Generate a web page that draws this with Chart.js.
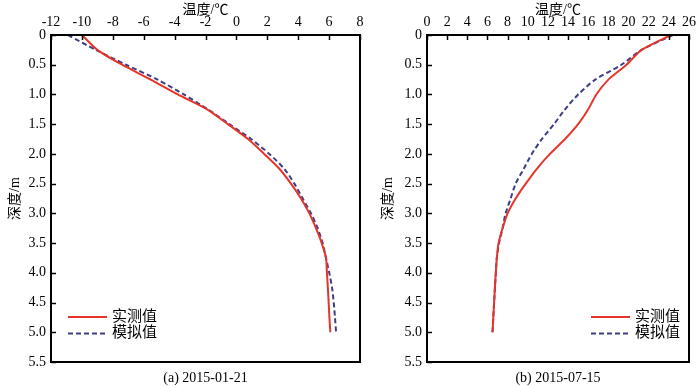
<!DOCTYPE html>
<html>
<head>
<meta charset="utf-8">
<script src="https://cdn.jsdelivr.net/npm/chart.js@4/dist/chart.umd.min.js"></script>
<style>
  html,body{margin:0;padding:0;background:#fff;}
  #wrap{position:relative;width:700px;height:386px;}
  .box{position:absolute;top:0;height:386px;}
</style>
</head>
<body>
<div id="wrap">
  <div class="box" style="left:0;width:370px"><canvas id="c1"></canvas></div>
  <div class="box" style="left:370px;width:330px"><canvas id="c2"></canvas></div>
</div>
<script>
// depth (m) shared by all four profiles
const depths = [0, 0.25, 0.5, 0.75, 1.0, 1.25, 1.5, 1.75, 2.0, 2.25, 2.5, 2.75, 3.0, 3.25, 3.5, 3.75, 4.0, 4.25, 4.5, 4.75, 5.0];

// (a) 2015-01-21
const janMeasured = [-10.0, -9.0, -7.4, -5.55, -3.8, -1.9, -0.55, 0.75, 1.8, 2.78, 3.53, 4.18, 4.72, 5.15, 5.52, 5.8, 5.86, 5.92, 5.97, 6.02, 6.08];
const janSimulated = [-10.9, -9.1, -7.15, -5.1, -3.4, -1.85, -0.45, 0.95, 2.13, 3.1, 3.75, 4.29, 4.83, 5.26, 5.58, 5.8, 6.01, 6.19, 6.3, 6.38, 6.45];

// (b) 2015-07-15
const julMeasured = [24.2, 21.3, 19.8, 18.0, 16.8, 16.0, 15.0, 13.7, 12.2, 10.9, 9.8, 8.8, 8.0, 7.5, 7.1, 6.93, 6.83, 6.74, 6.66, 6.58, 6.5];
const julSimulated = [24.4, 21.3, 19.3, 16.7, 15.0, 13.7, 12.6, 11.4, 10.4, 9.6, 8.8, 8.3, 7.8, 7.5, 7.15, 6.93, 6.83, 6.74, 6.66, 6.58, 6.5];

const depthTicks = [0, 0.5, 1.0, 1.5, 2.0, 2.5, 3.0, 3.5, 4.0, 4.5, 5.0, 5.5];
const seriesNames = ['实测值', '模拟值'];
const xTitle = '温度/℃';
const yTitle = '深度/m';

const RED = '#e5352b';
const BLUE = '#3d3f85';
const FONT = "'Liberation Serif','Noto Sans CJK SC',serif";

const pts = (xs) => xs.map((x, i) => ({ x, y: depths[i] }));

// frame, inward ticks, titles, caption and legend
const framePlugin = {
  id: 'frame',
  afterDraw(chart, _a, opts) {
    const { ctx, chartArea: { left, right, top, bottom }, scales } = chart;
    ctx.save();
    ctx.strokeStyle = '#000';
    ctx.lineWidth = 1.5;
    ctx.beginPath();
    scales.x.ticks.forEach(t => {
      const px = Math.round(scales.x.getPixelForValue(t.value)) + 0.5;
      ctx.moveTo(px, top); ctx.lineTo(px, top + 5);
    });
    scales.y.ticks.forEach(t => {
      const py = Math.round(scales.y.getPixelForValue(t.value)) + 0.5;
      ctx.moveTo(left, py); ctx.lineTo(left + 5, py);
    });
    ctx.stroke();
    ctx.lineWidth = 2;
    ctx.strokeRect(left, top, right - left, bottom - top);

    const cx = (left + right) / 2;
    ctx.fillStyle = '#000';
    ctx.textAlign = 'center';
    ctx.textBaseline = 'middle';
    ctx.font = '14px ' + FONT;
    ctx.fillText(xTitle, cx, 10);
    ctx.fillText(opts.caption, cx, 378);

    ctx.save();
    ctx.translate(opts.yTitleX, (top + bottom) / 2);
    ctx.rotate(-Math.PI / 2);
    ctx.fillText(yTitle, 0, 0);
    ctx.restore();

    // legend
    const lx = opts.legendX;
    const rows = [{ c: RED, d: [] }, { c: BLUE, d: [5, 3] }];
    rows.forEach((r, i) => {
      const y = 317 + i * 16.5;
      ctx.strokeStyle = r.c;
      ctx.lineWidth = 2;
      ctx.setLineDash(r.d);
      ctx.beginPath();
      ctx.moveTo(left + lx, y); ctx.lineTo(left + lx + 39, y);
      ctx.stroke();
      ctx.setLineDash([]);
      ctx.textAlign = 'left';
      ctx.font = '15px ' + FONT;
      ctx.fillText(seriesNames[i], left + lx + 44, y);
    });
    ctx.restore();
  }
};

function profile(id, xMin, xMax, meas, sim, leftW, opts) {
  return new Chart(document.getElementById(id), {
    type: 'scatter',
    data: {
      datasets: [
        { label: seriesNames[0], data: pts(meas), showLine: true, borderColor: RED, borderWidth: 2, pointRadius: 0, tension: 0.25, fill: false },
        { label: seriesNames[1], data: pts(sim), showLine: true, borderColor: BLUE, borderWidth: 2, borderDash: [5, 3], pointRadius: 0, tension: 0.25, fill: false }
      ]
    },
    options: {
      responsive: true,
      maintainAspectRatio: false,
      animation: false,
      layout: { padding: { top: 0, left: 0, right: 10, bottom: 24 } },
      plugins: { legend: { display: false }, tooltip: { enabled: false }, frame: opts },
      scales: {
        x: {
          type: 'linear', position: 'top', min: xMin, max: xMax,
          grid: { display: false, drawTicks: false }, border: { display: false },
          ticks: { stepSize: 2, autoSkip: false, maxRotation: 0, padding: 4, color: '#000', font: { family: FONT, size: 14 } },
          afterFit(s) { s.height = 35; }
        },
        y: {
          type: 'linear', reverse: true, min: 0, max: 5.5,
          grid: { display: false, drawTicks: false }, border: { display: false },
          afterBuildTicks(s) { s.ticks = depthTicks.map(v => ({ value: v })); },
          ticks: {
            autoSkip: false, padding: 5, color: '#000', font: { family: FONT, size: 14 },
            callback: v => v === 0 ? '0' : Number(v).toFixed(1)
          },
          afterFit(s) { s.width = leftW; }
        }
      }
    },
    plugins: [framePlugin]
  });
}

profile('c1', -12, 8, janMeasured, janSimulated, 51, { caption: '(a) 2015-01-21', yTitleX: 15, legendX: 17 });
profile('c2', 0, 26, julMeasured, julSimulated, 57, { caption: '(b) 2015-07-15', yTitleX: 18, legendX: 164 });
</script>
</body>
</html>
